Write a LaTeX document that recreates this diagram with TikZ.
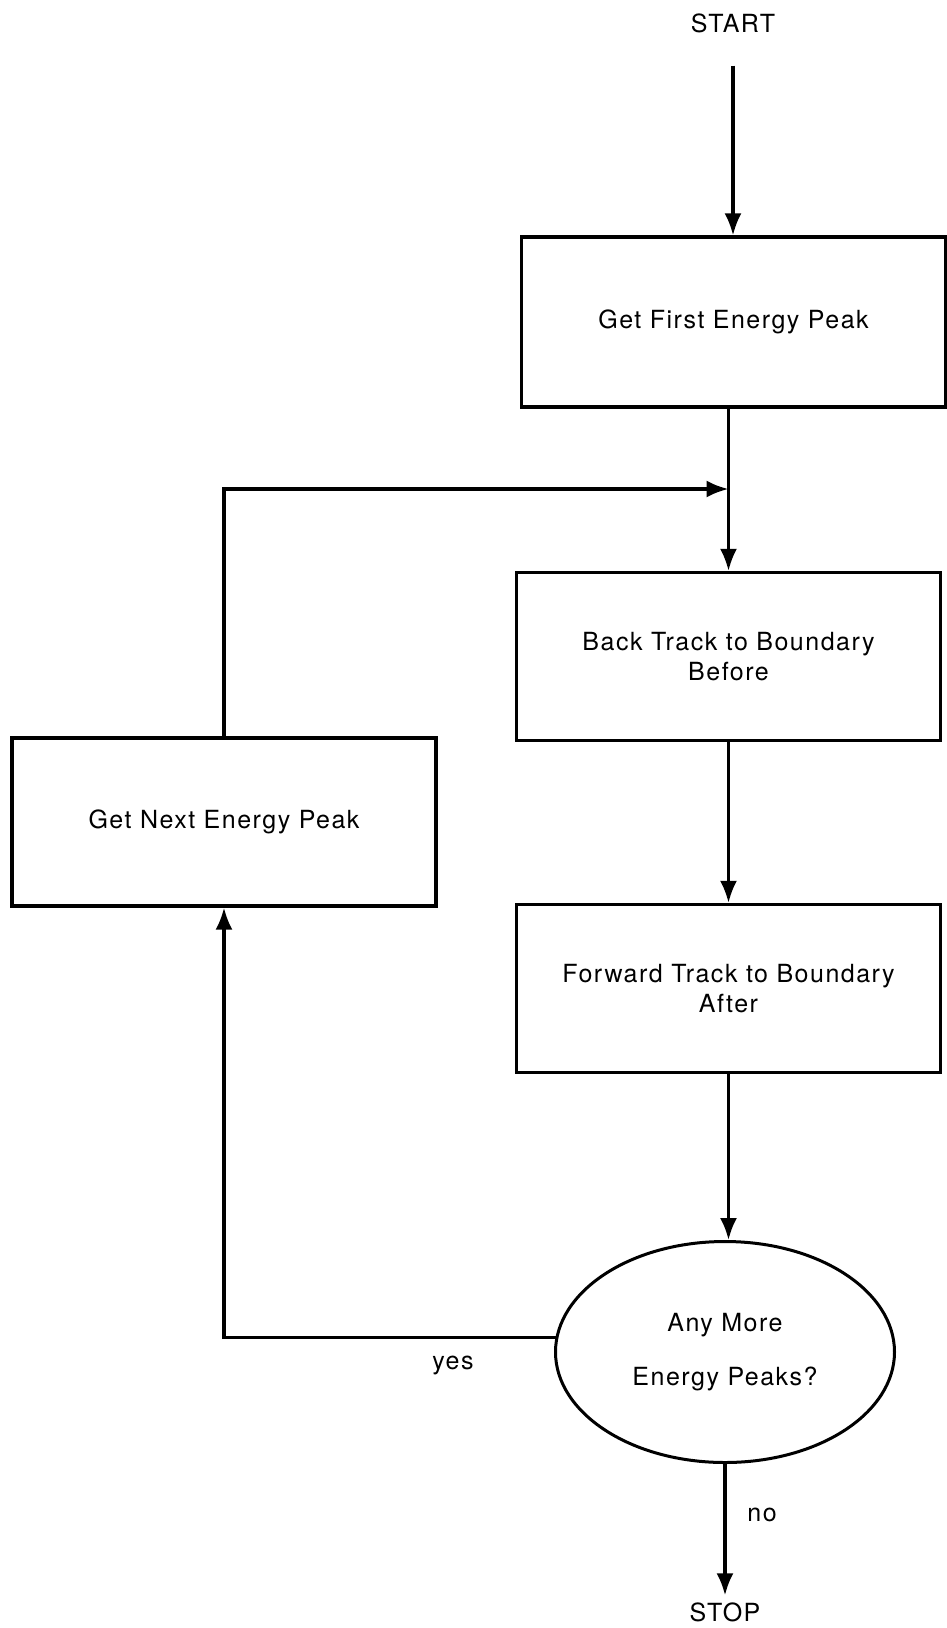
\documentclass[tikz,border=0pt]{standalone}
\usepackage{fontspec}
\setmainfont{TeX Gyre Heros}[LetterSpace=6]
\usepackage{tikz}
\usetikzlibrary{arrows.meta}
\usetikzlibrary{shapes.geometric}

\begin{document}
\begin{tikzpicture}[
x=0.5pt,y=-0.5pt,
MyBoxes/.style={draw,rectangle,line width=1.6pt,minimum width=212pt,minimum height=84pt,inner sep=0pt,align=center},
MyOval/.style={draw,ellipse,line width=1.5pt,minimum width=169.5pt,minimum height=110.5pt,inner sep=0pt,align=center},
Flow/.style={line width=1.6pt,-{Latex[length=11pt, width=8.5pt]}},
Plain/.style={line width=1.6pt},
every node/.style={font=\fontsize{12.5}{15}\selectfont}
]
\useasboundingbox (0,0) rectangle (947,1628);

% boxes of the main column
\node (start) at (733,23) {START};
\node[MyBoxes,minimum height=85pt] (first) at (733.5,322) {Get First Energy Peak};
\node[MyBoxes] (back) at (728.5,656.5) {Back Track to Boundary\\Before};
\node[MyBoxes] (forward) at (728.5,988.5) {Forward Track to Boundary\\After};
\node[MyOval] (ask) at (725,1352) {Any More\\[12pt]Energy Peaks?};
\node (stop) at (725,1612) {STOP};

% the loop back
\node[MyBoxes] (next) at (224,822) {Get Next Energy Peak};
\coordinate (join) at (728.5,489);

\node (yes) at (453,1365) {yes};
\node (no) at (762,1515) {no};

\draw[Flow, shorten <=13pt] (start.south) -- (start.south |- first.north);
\draw[Plain] (join |- first.south) -- (join);
\draw[Flow] (join) -- (back.north);
\draw[Flow] (next.north) |- (join);
\draw[Flow] (back.south) -- (forward.north);
\draw[Flow] (forward.south) -- (forward.south |- ask.north);
\draw[Flow] (ask.175) -| (next.south);
\draw[Flow] (ask.south) -- (stop.north);

\end{tikzpicture}
\end{document}
